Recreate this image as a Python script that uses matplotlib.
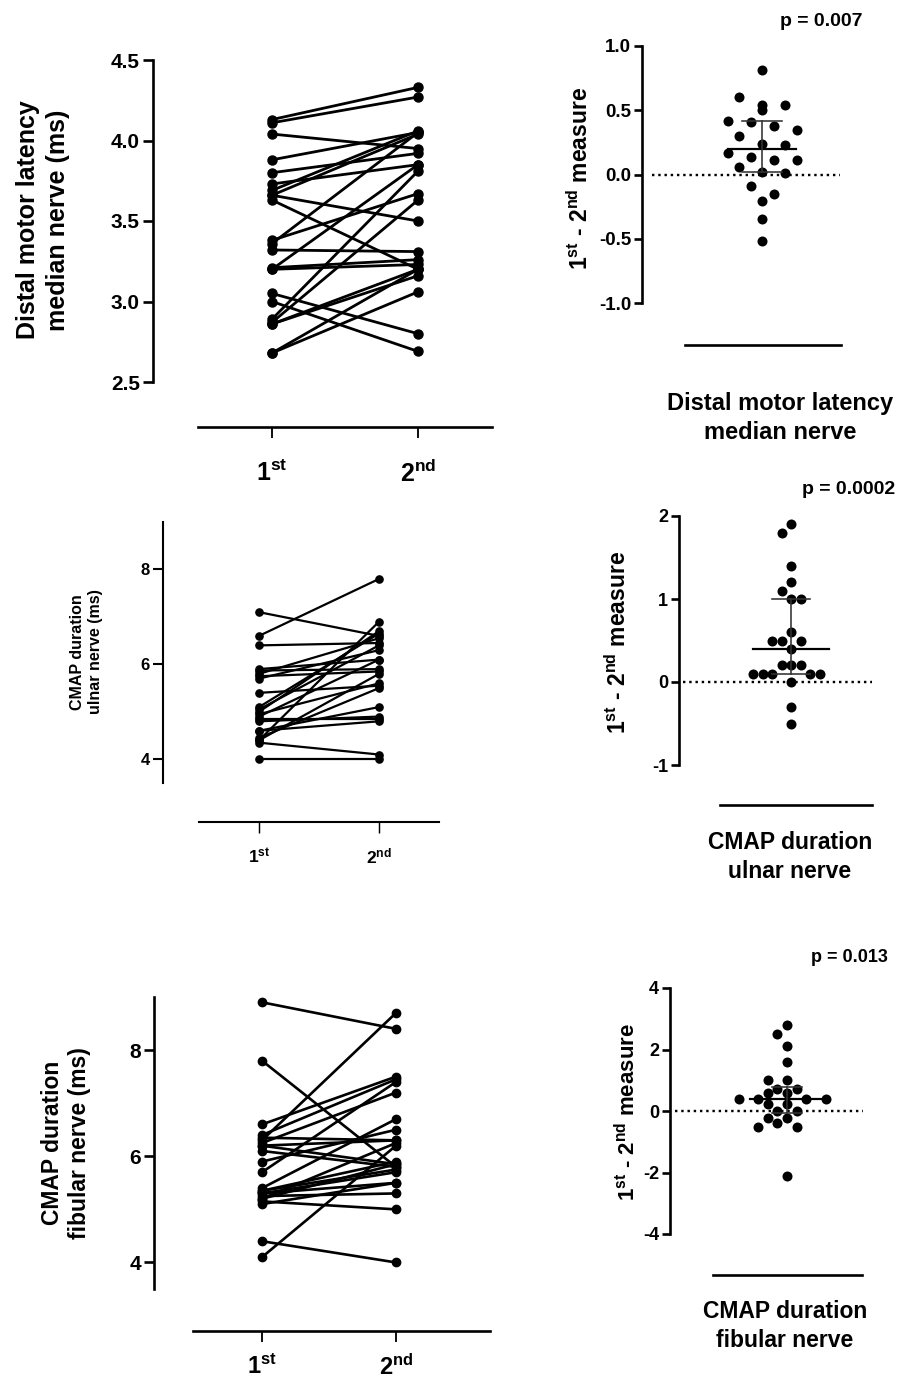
import numpy as np
import matplotlib
matplotlib.use("Agg")
import matplotlib.pyplot as plt
from matplotlib import font_manager as fm
from matplotlib.ticker import FormatStrFormatter

# ---------------- data ----------------
dml_first = [4.13, 4.11, 4.04, 3.88, 3.80, 3.73, 3.69, 3.66, 3.66, 3.63, 3.38, 3.36,
             3.32, 3.21, 3.20, 3.20, 3.05, 3.00, 2.89, 2.87, 2.86, 2.86, 2.68, 2.68]
dml_second = [4.33, 4.27, 3.95, 4.05, 3.92, 3.85, 4.06, 4.04, 3.50, 3.20, 3.67, 4.05,
              3.31, 3.26, 3.23, 3.85, 2.80, 2.69, 3.81, 3.63, 3.20, 3.16, 3.06, 3.20]
dml_diff = [0.81, 0.60, 0.54, 0.54, 0.50, 0.42, 0.41, 0.38, 0.35, 0.30, 0.24, 0.23,
            0.17, 0.14, 0.11, 0.11, 0.06, 0.02, 0.01, -0.09, -0.15, -0.21, -0.35, -0.52]
dml_p = "p = 0.007"

uln_first = [7.1, 6.6, 6.4, 5.9, 5.87, 5.8, 5.75, 5.7, 5.4, 5.1, 5.05, 5.0,
             4.95, 4.9, 4.85, 4.8, 4.6, 4.45, 4.4, 4.35, 4.0, 4.4, 4.6]
uln_second = [6.6, 7.8, 6.45, 6.1, 5.9, 6.55, 5.85, 6.3, 5.55, 6.65, 6.4, 6.7,
              5.6, 6.1, 4.85, 4.9, 5.1, 5.5, 6.9, 4.1, 4.0, 5.8, 4.8]
uln_diff = [1.9, 1.8, 1.4, 1.2, 1.1, 1.0, 1.0, 0.6, 0.5, 0.5, 0.5, 0.4,
            0.2, 0.2, 0.2, 0.1, 0.1, 0.1, 0.1, 0.1, 0.0, -0.3, -0.5]
uln_p = "p = 0.0002"

fib_first = [8.9, 7.8, 6.6, 6.4, 6.35, 6.3, 6.25, 6.2, 6.1, 5.9, 5.7, 5.4,
             5.35, 5.3, 5.3, 5.25, 5.2, 5.15, 5.1, 4.4, 4.1, 5.2, 5.35, 6.2]
fib_second = [8.4, 5.8, 7.5, 7.45, 6.3, 8.7, 7.2, 6.3, 5.8, 6.5, 7.4, 6.7,
              5.9, 5.7, 5.5, 5.3, 5.85, 5.0, 5.5, 4.0, 6.2, 6.25, 5.75, 5.85]
fib_diff = [2.8, 2.5, 2.1, 1.6, 1.0, 1.0, 0.72, 0.72, 0.59, 0.59, 0.4, 0.4,
            0.4, 0.4, 0.22, 0.22, 0.0, 0.0, -0.22, -0.22, -0.39, -0.52, -0.52, -2.1]
fib_p = "p = 0.013"

visit_labels = [r"$1^{st}$", r"$2^{nd}$"]
diff_ylabel = r"$1^{st}$ - $2^{nd}$ measure"

# ---------------- style ----------------
names = {f.name for f in fm.fontManager.ttflist}
FONT = "Liberation Sans" if "Liberation Sans" in names else "DejaVu Sans"
plt.rcParams.update({
    "font.family": [FONT, "DejaVu Sans"],
    "font.weight": "bold",
    "axes.unicode_minus": False,
    "mathtext.fontset": "custom",
    "mathtext.rm": f"{FONT}:bold",
    "mathtext.it": f"{FONT}:bold",
    "mathtext.bf": f"{FONT}:bold",
    "mathtext.default": "rm",
})

W, H = 897, 1382
fig = plt.figure(figsize=(W / 100, H / 100), dpi=100)
PT = 0.72  # points per pixel


def rect(l, t, r, b):
    return [l / W, 1 - b / H, (r - l) / W, (b - t) / H]


def ftext(x, y, s, **kw):
    fig.text(x / W, 1 - y / H, s, **kw)


def paired(box, first, second, ylim, yticks, fmt, center1, center2, xline, line_y,
           ms, lw, ytfs, xtfs, spw, xpad):
    l, t, r, b = box
    ax = fig.add_axes(rect(l, t, r, b))
    ppu = center2 - center1
    ax.set_xlim(1 - (center1 - l) / ppu, 2 + (r - center2) / ppu)
    ax.set_ylim(*ylim)
    for a, c in zip(first, second):
        ax.plot([1, 2], [a, c], "-o", color="black", ms=ms, lw=lw, clip_on=False)
    for s in ("top", "right"):
        ax.spines[s].set_visible(False)
    ax.spines["left"].set_linewidth(spw)
    ax.spines["bottom"].set_linewidth(spw)
    ax.spines["bottom"].set_position(("outward", (line_y - b) * PT))
    ax.spines["bottom"].set_bounds(1 - (center1 - xline[0]) / ppu,
                                   2 + (xline[1] - center2) / ppu)
    ax.set_yticks(yticks)
    ax.yaxis.set_major_formatter(FormatStrFormatter(fmt))
    ax.set_xticks([1, 2])
    ax.set_xticklabels(visit_labels)
    ax.tick_params(axis="y", direction="out", length=8 * PT * 1.3, width=spw,
                   labelsize=ytfs, pad=2)
    ax.tick_params(axis="x", direction="out", length=11 * PT, width=spw * 0.7,
                   labelsize=xtfs, pad=xpad)
    for lab in ax.get_yticklabels() + ax.get_xticklabels():
        lab.set_fontweight("bold")
    return ax


def row_offsets(vals_px, diam, step):
    """Group points into horizontal rows and centre each row."""
    order = np.argsort(vals_px, kind="stable")
    rows = []
    for i in order:
        if rows and vals_px[i] - vals_px[rows[-1][0]] < diam * 0.9:
            rows[-1].append(i)
        else:
            rows.append([i])
    off = np.zeros(len(vals_px))
    for row in rows:
        n = len(row)
        for k, i in enumerate(row):
            off[i] = (2 * k - (n - 1)) * step / 2
    return off


def greedy_offsets(vals_px, diam, step):
    """Classic beeswarm: each point takes the most central free grid slot."""
    order = np.argsort(vals_px, kind="stable")
    cands = [0.0]
    for k in range(1, 12):
        cands += [-k * step, k * step]
    placed = []
    off = np.zeros(len(vals_px))
    for i in order:
        y = vals_px[i]
        for c in cands:
            if all((c - px) ** 2 + (y - py) ** 2 >= diam ** 2 for px, py in placed):
                off[i] = c
                placed.append((c, y))
                break
    return off


def diffplot(box, center, vals, ylim, yticks, fmt, dotted, xline, line_y, msize,
             step, med_hw, cap_hw, ytfs, spw, layout, gap=1.0):
    l, t, r, b = box
    ax = fig.add_axes(rect(l, t, r, b))
    ax.set_xlim(l - center, r - center)
    ax.set_ylim(*ylim)
    ppu = (b - t) / (ylim[1] - ylim[0])
    vals = np.asarray(vals, float)
    vals_px = -vals * ppu  # downward pixel coordinate
    if layout == "rows":
        off = row_offsets(vals_px, msize, step)
    else:
        off = greedy_offsets(vals_px, msize * gap, step)
    ax.axhline(0, xmin=(dotted[0] - l) / (r - l), xmax=(dotted[1] - l) / (r - l),
               color="black", lw=2.0 * PT * 1.2, ls=(0, (1, 1.6)), zorder=1)
    ax.scatter(off, vals, s=(msize * PT) ** 2, color="black", zorder=3,
               linewidths=0, clip_on=False)
    med = np.median(vals)
    q1, q3 = np.percentile(vals, [25, 75])
    ax.plot([-med_hw, med_hw], [med, med], color="black", lw=2.2 * PT, zorder=4)
    ax.plot([0, 0], [q1, q3], color="#333333", lw=1.6 * PT, zorder=4)
    ax.plot([-cap_hw, cap_hw], [q1, q1], color="#333333", lw=1.6 * PT, zorder=4)
    ax.plot([-cap_hw, cap_hw], [q3, q3], color="#333333", lw=1.6 * PT, zorder=4)
    for s in ("top", "right"):
        ax.spines[s].set_visible(False)
    ax.spines["left"].set_linewidth(spw)
    ax.spines["bottom"].set_linewidth(spw)
    ax.spines["bottom"].set_position(("outward", (line_y - b) * PT))
    ax.spines["bottom"].set_bounds(xline[0] - center, xline[1] - center)
    ax.set_xticks([])
    ax.set_yticks(yticks)
    ax.yaxis.set_major_formatter(FormatStrFormatter(fmt))
    ax.tick_params(axis="y", direction="out", length=8 * PT, width=spw,
                   labelsize=ytfs, pad=2)
    for lab in ax.get_yticklabels():
        lab.set_fontweight("bold")
    return ax


# ---------------- row 1: distal motor latency median nerve ----------------
paired((153, 60, 492, 382), dml_first, dml_second, (2.5, 4.5),
       [2.5, 3.0, 3.5, 4.0, 4.5], "%.1f", 272, 418, (198, 492), 427,
       ms=6.5, lw=2.0, ytfs=15, xtfs=18, spw=1.9, xpad=16)
ftext(43, 220, "Distal motor latency\nmedian nerve (ms)", rotation=90,
      ha="center", va="center", fontsize=18, fontweight="bold", linespacing=1.3)

diffplot((642, 46, 845, 303), 762, dml_diff, (-1, 1), [-1.0, -0.5, 0.0, 0.5, 1.0],
         "%.1f", (652, 840), (685, 841), 345, msize=10, step=23, med_hw=34,
         cap_hw=20, ytfs=13.5, spw=1.9, layout="rows")
ftext(580, 178, diff_ylabel, rotation=90, ha="center", va="center",
      fontsize=16.5, fontweight="bold")
ftext(862, 22, dml_p, ha="right", va="center", fontsize=14, fontweight="bold")
ftext(780, 418, "Distal motor latency\nmedian nerve", ha="center", va="center",
      fontsize=17, fontweight="bold", linespacing=1.3)

# ---------------- row 2: CMAP duration ulnar nerve ----------------
paired((163, 522, 439, 783), uln_first, uln_second, (3.5, 9), [4, 6, 8], "%d",
       259, 379, (199, 439), 822, ms=5.2, lw=1.6, ytfs=12, xtfs=12.5, spw=1.5,
       xpad=10)
ftext(86, 652, "CMAP duration\nulnar nerve (ms)", rotation=90, ha="center",
      va="center", fontsize=11.5, fontweight="bold", linespacing=1.25)

diffplot((679, 516, 875, 765), 791, uln_diff, (-1, 2), [-1, 0, 1, 2], "%d",
         (683, 872), (720, 872), 805, msize=10, step=9.5, med_hw=38, cap_hw=19,
         ytfs=13, spw=1.9, layout="greedy", gap=0.93)
ftext(618, 642, diff_ylabel, rotation=90, ha="center", va="center",
      fontsize=16.5, fontweight="bold")
ftext(895, 490, uln_p, ha="right", va="center", fontsize=14, fontweight="bold")
ftext(790, 857, "CMAP duration\nulnar nerve", ha="center", va="center",
      fontsize=16.5, fontweight="bold", linespacing=1.3)

# ---------------- row 3: CMAP duration fibular nerve ----------------
paired((154, 997, 490, 1289), fib_first, fib_second, (3.5, 9), [4, 6, 8], "%d",
       262, 396, (193, 490), 1331, ms=6.0, lw=1.9, ytfs=15, xtfs=17, spw=1.9,
       xpad=9)
ftext(66, 1143, "CMAP duration\nfibular nerve (ms)", rotation=90, ha="center",
      va="center", fontsize=16.5, fontweight="bold", linespacing=1.25)

diffplot((670, 988, 865, 1234), 787, fib_diff, (-4, 4), [-4, -2, 0, 2, 4], "%d",
         (675, 863), (713, 862), 1275, msize=10, step=9.7, med_hw=37, cap_hw=15,
         ytfs=13, spw=1.9, layout="greedy", gap=1.0)
ftext(628, 1112, diff_ylabel, rotation=90, ha="center", va="center",
      fontsize=16, fontweight="bold")
ftext(888, 958, fib_p, ha="right", va="center", fontsize=13, fontweight="bold")
ftext(785, 1326, "CMAP duration\nfibular nerve", ha="center", va="center",
      fontsize=16.5, fontweight="bold", linespacing=1.3)

fig.savefig("out.png", dpi=100, facecolor="white")
